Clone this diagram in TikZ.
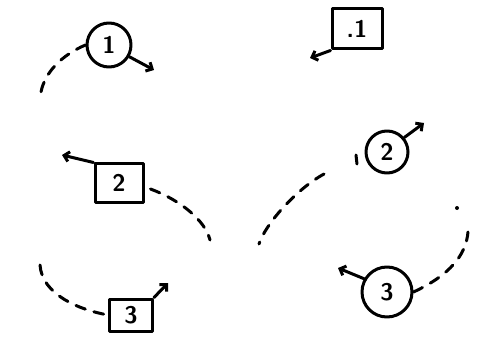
\documentclass[tikz,border=0pt]{standalone}
\usetikzlibrary{arrows.meta}
\begin{document}
\begin{tikzpicture}[x=1pt,y=-1pt,
  ink/.style={line width=3pt, line cap=round, line join=round},
  circ/.style={ink, draw, circle, minimum size=44pt, inner sep=0pt, font=\fontsize{24}{26}\sffamily\bfseries\selectfont},
  sq/.style={ink, draw, rectangle, minimum width=48pt, minimum height=38pt, inner sep=0pt, font=\fontsize{24}{26}\sffamily\bfseries\selectfont},
  arr/.style={ink, -{Straight Barb[length=5pt,width=10pt]}},
  dashline/.style={ink, dash pattern=on 10pt off 9pt}]
\useasboundingbox (0,0) rectangle (478,347);
% nodes
\node[circ] (c1) at (109,45) {1};
\node[sq, minimum width=50pt, minimum height=40pt] (b1) at (357,29) {.1};
\node[circ, minimum size=42pt] (c2) at (387,152) {2};
\node[sq] (b2) at (119,183) {2};
\node[sq, minimum width=43pt, minimum height=32pt] (b3) at (131,315) {3};
\node[circ, minimum size=50pt] (c3) at (387,292) {3};
% free ends
\coordinate (a1) at (154,70);
\coordinate (a2) at (310,58);
\coordinate (a3) at (424,123);
\coordinate (a4) at (62,155);
\coordinate (a5) at (168,283);
\coordinate (a6) at (338,268);
\coordinate (d1) at (41,92);
\coordinate (d2) at (210,240);
\coordinate (d3) at (40,265);
\coordinate (d4) at (468,232);
\coordinate (d5) at (324,174);
\coordinate (d6) at (259,244);
\coordinate (dot) at (457,208);
% arrows
\draw[arr] (c1.-30) -- (a1);
\draw[arr] (b1.south west) -- (a2);
\draw[arr] (c2.40) -- (a3);
\draw[arr] (b2.north west) -- (a4);
\draw[arr] (b3.north east) -- (a5);
\draw[arr] (c3.150) -- (a6);
% dashed arcs
\draw[dashline] (c1.west) .. controls (62,55) and (45,72) .. (d1);
\draw[dashline] (b2.east) ++(6,6) .. controls (180,200) and (205,220) .. (d2);
\draw[dashline] (d3) .. controls (42,295) and (80,310) .. (b3.west);
\draw[dashline] (c3.east) .. controls (450,275) and (466,255) .. (d4);
\draw[dashline] (d5) .. controls (295,190) and (265,225) .. (d6);
\fill (dot) circle (2pt);
\draw[ink] (356,155) -- (357,164);
\end{tikzpicture}
\end{document}
